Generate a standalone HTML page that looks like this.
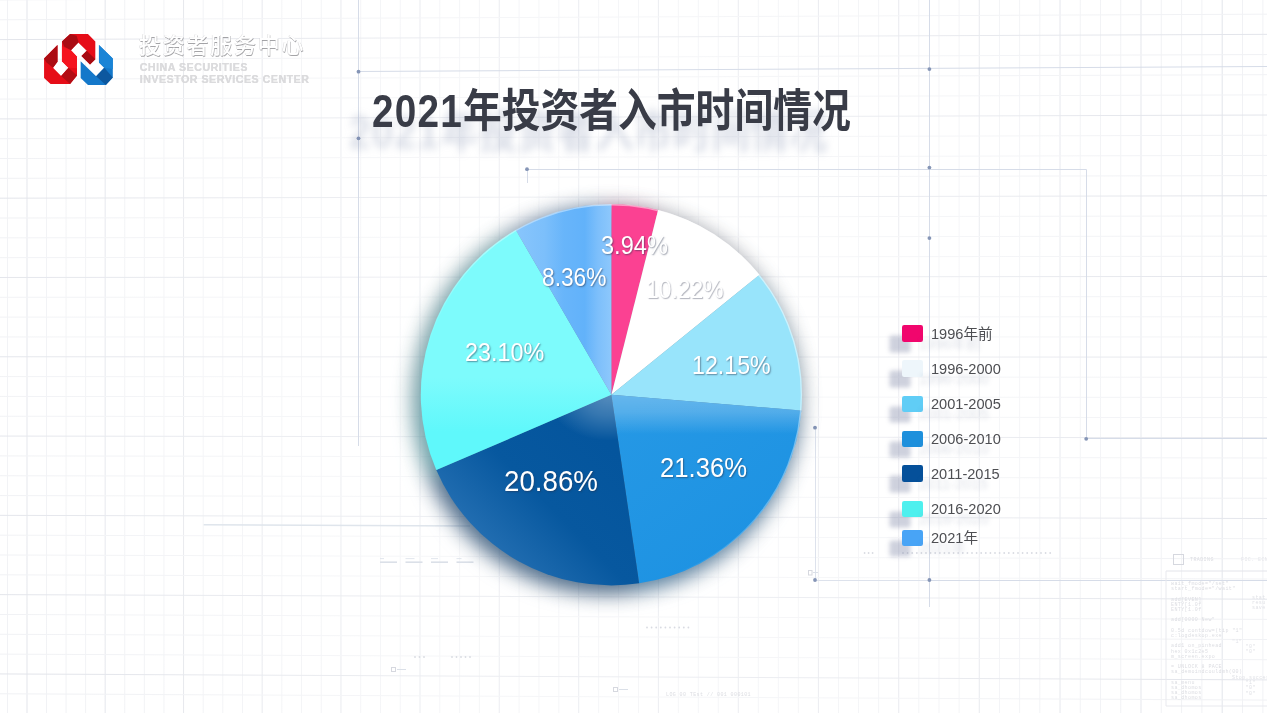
<!DOCTYPE html>
<html lang="zh-CN">
<head>
<meta charset="utf-8">
<title>2021年投资者入市时间情况</title>
<style>
html,body{margin:0;padding:0;background:#fff;}
body{width:1267px;height:713px;overflow:hidden;}
#stage{position:relative;width:1267px;height:713px;overflow:hidden;background:#fff;
  font-family:"Liberation Sans","Noto Sans CJK SC",sans-serif;}
#bg,#pie{position:absolute;left:0;top:0;}
.abs{position:absolute;white-space:nowrap;line-height:1;}
#title{left:372px;top:89px;font-size:45.5px;font-weight:700;color:#393c47;
  transform-origin:0 0;transform:scaleX(0.852);letter-spacing:0;
  filter:drop-shadow(-27px 21px 4.5px rgba(115,128,165,.28));}
#title span{letter-spacing:1.4px;}
.lbl{color:#fff;font-weight:400;transform-origin:0 0;
  text-shadow:1px 1.2px 1.6px rgba(40,50,75,.5);}
.lg{font-size:14.6px;color:#4d4e52;text-shadow:-12px 10px 4px rgba(120,130,160,.25);}
.sw{position:absolute;width:21px;height:16.6px;border-radius:2.2px;left:902.4px;
  box-shadow:-12.5px 10.5px 4px rgba(125,135,165,.38);}
#cn{left:139px;top:34.5px;font-size:22px;letter-spacing:1.75px;color:#fff;font-weight:500;
  text-shadow:0.6px 0.6px 0.6px rgba(125,125,130,.7),-0.4px -0.4px 0.5px rgba(175,175,180,.5);}
.en{left:139.5px;font-size:10.6px;color:#dbdbdd;font-weight:700;letter-spacing:0.54px;
  text-shadow:0.4px 0.4px 0.5px rgba(160,160,165,.4);}
.tiny{color:#dcdde2;font-size:5px;letter-spacing:.4px;font-family:"Liberation Mono",monospace;}
</style>
</head>
<body>
<div id="stage">
<svg id="bg" width="1267" height="713" viewBox="0 0 1267 713">
<g stroke-width="1" shape-rendering="auto" fill="none">
<line x1="7.49" y1="0" x2="7.49" y2="713" stroke="#f1f2f5"/>
<line x1="27" y1="0" x2="27" y2="713" stroke="#e3e5eb"/>
<line x1="46.52" y1="0" x2="46.52" y2="713" stroke="#f1f2f5"/>
<line x1="66.06" y1="0" x2="66.06" y2="713" stroke="#f1f2f5"/>
<line x1="85.61" y1="0" x2="85.61" y2="713" stroke="#f1f2f5"/>
<line x1="105.17" y1="0" x2="105.17" y2="713" stroke="#e3e5eb"/>
<line x1="124.74" y1="0" x2="124.74" y2="713" stroke="#f1f2f5"/>
<line x1="144.33" y1="0" x2="144.33" y2="713" stroke="#f1f2f5"/>
<line x1="163.94" y1="0" x2="163.94" y2="713" stroke="#f1f2f5"/>
<line x1="183.55" y1="0" x2="183.55" y2="713" stroke="#e3e5eb"/>
<line x1="203.18" y1="0" x2="203.18" y2="713" stroke="#f1f2f5"/>
<line x1="222.83" y1="0" x2="222.83" y2="713" stroke="#f1f2f5"/>
<line x1="242.48" y1="0" x2="242.48" y2="713" stroke="#f1f2f5"/>
<line x1="262.15" y1="0" x2="262.15" y2="713" stroke="#e3e5eb"/>
<line x1="281.84" y1="0" x2="281.84" y2="713" stroke="#f1f2f5"/>
<line x1="301.53" y1="0" x2="301.53" y2="713" stroke="#f1f2f5"/>
<line x1="321.24" y1="0" x2="321.24" y2="713" stroke="#f1f2f5"/>
<line x1="340.97" y1="0" x2="340.97" y2="713" stroke="#e3e5eb"/>
<line x1="360.71" y1="0" x2="360.71" y2="713" stroke="#f1f2f5"/>
<line x1="380.46" y1="0" x2="380.46" y2="713" stroke="#f1f2f5"/>
<line x1="400.22" y1="0" x2="400.22" y2="713" stroke="#f1f2f5"/>
<line x1="420" y1="0" x2="420" y2="713" stroke="#e3e5eb"/>
<line x1="439.79" y1="0" x2="439.79" y2="713" stroke="#f1f2f5"/>
<line x1="459.6" y1="0" x2="459.6" y2="713" stroke="#f1f2f5"/>
<line x1="479.42" y1="0" x2="479.42" y2="713" stroke="#f1f2f5"/>
<line x1="499.25" y1="0" x2="499.25" y2="713" stroke="#e3e5eb"/>
<line x1="519.09" y1="0" x2="519.09" y2="713" stroke="#f1f2f5"/>
<line x1="538.95" y1="0" x2="538.95" y2="713" stroke="#f1f2f5"/>
<line x1="558.83" y1="0" x2="558.83" y2="713" stroke="#f1f2f5"/>
<line x1="578.71" y1="0" x2="578.71" y2="713" stroke="#e3e5eb"/>
<line x1="598.61" y1="0" x2="598.61" y2="713" stroke="#f1f2f5"/>
<line x1="618.53" y1="0" x2="618.53" y2="713" stroke="#f1f2f5"/>
<line x1="638.45" y1="0" x2="638.45" y2="713" stroke="#f1f2f5"/>
<line x1="658.39" y1="0" x2="658.39" y2="713" stroke="#e3e5eb"/>
<line x1="678.35" y1="0" x2="678.35" y2="713" stroke="#f1f2f5"/>
<line x1="698.31" y1="0" x2="698.31" y2="713" stroke="#f1f2f5"/>
<line x1="718.29" y1="0" x2="718.29" y2="713" stroke="#f1f2f5"/>
<line x1="738.29" y1="0" x2="738.29" y2="713" stroke="#e3e5eb"/>
<line x1="758.3" y1="0" x2="758.3" y2="713" stroke="#f1f2f5"/>
<line x1="778.32" y1="0" x2="778.32" y2="713" stroke="#f1f2f5"/>
<line x1="798.35" y1="0" x2="798.35" y2="713" stroke="#f1f2f5"/>
<line x1="818.4" y1="0" x2="818.4" y2="713" stroke="#e3e5eb"/>
<line x1="838.46" y1="0" x2="838.46" y2="713" stroke="#f1f2f5"/>
<line x1="858.54" y1="0" x2="858.54" y2="713" stroke="#f1f2f5"/>
<line x1="878.63" y1="0" x2="878.63" y2="713" stroke="#f1f2f5"/>
<line x1="898.73" y1="0" x2="898.73" y2="713" stroke="#e3e5eb"/>
<line x1="918.84" y1="0" x2="918.84" y2="713" stroke="#f1f2f5"/>
<line x1="938.97" y1="0" x2="938.97" y2="713" stroke="#f1f2f5"/>
<line x1="959.12" y1="0" x2="959.12" y2="713" stroke="#f1f2f5"/>
<line x1="979.27" y1="0" x2="979.27" y2="713" stroke="#e3e5eb"/>
<line x1="999.44" y1="0" x2="999.44" y2="713" stroke="#f1f2f5"/>
<line x1="1019.62" y1="0" x2="1019.62" y2="713" stroke="#f1f2f5"/>
<line x1="1039.82" y1="0" x2="1039.82" y2="713" stroke="#f1f2f5"/>
<line x1="1060.03" y1="0" x2="1060.03" y2="713" stroke="#e3e5eb"/>
<line x1="1080.26" y1="0" x2="1080.26" y2="713" stroke="#f1f2f5"/>
<line x1="1100.49" y1="0" x2="1100.49" y2="713" stroke="#f1f2f5"/>
<line x1="1120.74" y1="0" x2="1120.74" y2="713" stroke="#f1f2f5"/>
<line x1="1141.01" y1="0" x2="1141.01" y2="713" stroke="#e3e5eb"/>
<line x1="1161.29" y1="0" x2="1161.29" y2="713" stroke="#f1f2f5"/>
<line x1="1181.58" y1="0" x2="1181.58" y2="713" stroke="#f1f2f5"/>
<line x1="1201.88" y1="0" x2="1201.88" y2="713" stroke="#f1f2f5"/>
<line x1="1222.2" y1="0" x2="1222.2" y2="713" stroke="#e3e5eb"/>
<line x1="1242.53" y1="0" x2="1242.53" y2="713" stroke="#f1f2f5"/>
<line x1="1262.88" y1="0" x2="1262.88" y2="713" stroke="#f1f2f5"/>
<line x1="0" y1="-19.85" x2="1267" y2="-26.18" stroke="#f1f2f5"/>
<line x1="0" y1="-0.03" x2="1267" y2="-6.01" stroke="#f1f2f5"/>
<line x1="0" y1="19.79" x2="1267" y2="14.16" stroke="#f1f2f5"/>
<line x1="0" y1="39.62" x2="1267" y2="34.34" stroke="#e3e5eb"/>
<line x1="0" y1="59.44" x2="1267" y2="54.51" stroke="#f1f2f5"/>
<line x1="0" y1="79.26" x2="1267" y2="74.69" stroke="#f1f2f5"/>
<line x1="0" y1="99.08" x2="1267" y2="94.86" stroke="#f1f2f5"/>
<line x1="0" y1="118.91" x2="1267" y2="115.03" stroke="#e3e5eb"/>
<line x1="0" y1="138.73" x2="1267" y2="135.21" stroke="#f1f2f5"/>
<line x1="0" y1="158.55" x2="1267" y2="155.38" stroke="#f1f2f5"/>
<line x1="0" y1="178.37" x2="1267" y2="175.56" stroke="#f1f2f5"/>
<line x1="0" y1="198.19" x2="1267" y2="195.73" stroke="#e3e5eb"/>
<line x1="0" y1="218.02" x2="1267" y2="215.91" stroke="#f1f2f5"/>
<line x1="0" y1="237.84" x2="1267" y2="236.08" stroke="#f1f2f5"/>
<line x1="0" y1="257.66" x2="1267" y2="256.25" stroke="#f1f2f5"/>
<line x1="0" y1="277.48" x2="1267" y2="276.43" stroke="#e3e5eb"/>
<line x1="0" y1="297.31" x2="1267" y2="296.6" stroke="#f1f2f5"/>
<line x1="0" y1="317.13" x2="1267" y2="316.78" stroke="#f1f2f5"/>
<line x1="0" y1="336.95" x2="1267" y2="336.95" stroke="#f1f2f5"/>
<line x1="0" y1="356.77" x2="1267" y2="357.12" stroke="#e3e5eb"/>
<line x1="0" y1="376.59" x2="1267" y2="377.3" stroke="#f1f2f5"/>
<line x1="0" y1="396.42" x2="1267" y2="397.47" stroke="#f1f2f5"/>
<line x1="0" y1="416.24" x2="1267" y2="417.65" stroke="#f1f2f5"/>
<line x1="0" y1="436.06" x2="1267" y2="437.82" stroke="#e3e5eb"/>
<line x1="0" y1="455.88" x2="1267" y2="457.99" stroke="#f1f2f5"/>
<line x1="0" y1="475.71" x2="1267" y2="478.17" stroke="#f1f2f5"/>
<line x1="0" y1="495.53" x2="1267" y2="498.34" stroke="#f1f2f5"/>
<line x1="0" y1="515.35" x2="1267" y2="518.52" stroke="#e3e5eb"/>
<line x1="0" y1="535.17" x2="1267" y2="538.69" stroke="#f1f2f5"/>
<line x1="0" y1="554.99" x2="1267" y2="558.87" stroke="#f1f2f5"/>
<line x1="0" y1="574.82" x2="1267" y2="579.04" stroke="#f1f2f5"/>
<line x1="0" y1="594.64" x2="1267" y2="599.21" stroke="#e3e5eb"/>
<line x1="0" y1="614.46" x2="1267" y2="619.39" stroke="#f1f2f5"/>
<line x1="0" y1="634.28" x2="1267" y2="639.56" stroke="#f1f2f5"/>
<line x1="0" y1="654.11" x2="1267" y2="659.74" stroke="#f1f2f5"/>
<line x1="0" y1="673.93" x2="1267" y2="679.91" stroke="#e3e5eb"/>
<line x1="0" y1="693.75" x2="1267" y2="700.08" stroke="#f1f2f5"/>
<line x1="0" y1="713.57" x2="1267" y2="720.26" stroke="#f1f2f5"/>
</g>
<defs><radialGradient id="fade" gradientUnits="userSpaceOnUse" cx="620" cy="380" r="680">
<stop offset="0" stop-color="#fff" stop-opacity=".5"/><stop offset=".55" stop-color="#fff" stop-opacity=".3"/><stop offset="1" stop-color="#fff" stop-opacity="0"/>
</radialGradient></defs>
<rect x="0" y="0" width="1267" height="713" fill="url(#fade)"/>
<!-- decorative guide lines -->
<g stroke="#d6dce8" stroke-width="1" fill="none">
<path d="M358.5 0V446"/>
<path d="M358.5 71.5L1267 66.5"/>
<path d="M929.5 0V607"/>
<path d="M527.5 183V169.5H1086.5V438.5H1267"/>
<path d="M815.5 427.7V580.5H1267" stroke="#dde2ec"/>
<path d="M929.5 580.5H1267"/>
<path d="M203.7 524.8L470 526" stroke="#dfe5ec" stroke-width="1.5"/>
</g>
<g fill="#8595b6">
<circle cx="358.5" cy="71.7" r="1.9"/><circle cx="358.5" cy="138.3" r="1.9"/>
<circle cx="527" cy="169.2" r="1.9"/>
<circle cx="929.4" cy="69.1" r="1.9"/><circle cx="929.4" cy="167.6" r="1.9"/><circle cx="929.4" cy="238.1" r="1.9"/>
<circle cx="1086.2" cy="438.8" r="1.9"/>
<circle cx="815" cy="427.7" r="1.9"/><circle cx="815" cy="580" r="1.9"/><circle cx="929.4" cy="580" r="1.9"/>
</g>
<!-- faint HUD marks -->
<g fill="#d9dbe2">
<circle cx="864.6" cy="553" r="0.9"/>
<circle cx="868.6" cy="553" r="0.9"/>
<circle cx="872.6" cy="553" r="0.9"/>
<circle cx="903" cy="553" r="0.9"/>
<circle cx="907.6" cy="553" r="0.9"/>
<circle cx="912.2" cy="553" r="0.9"/>
<circle cx="916.8" cy="553" r="0.9"/>
<circle cx="921.4" cy="553" r="0.9"/>
<circle cx="926" cy="553" r="0.9"/>
<circle cx="930.6" cy="553" r="0.9"/>
<circle cx="935.2" cy="553" r="0.9"/>
<circle cx="939.8" cy="553" r="0.9"/>
<circle cx="944.4" cy="553" r="0.9"/>
<circle cx="949" cy="553" r="0.9"/>
<circle cx="953.6" cy="553" r="0.9"/>
<circle cx="958.2" cy="553" r="0.9"/>
<circle cx="962.8" cy="553" r="0.9"/>
<circle cx="967.4" cy="553" r="0.9"/>
<circle cx="972" cy="553" r="0.9"/>
<circle cx="976.6" cy="553" r="0.9"/>
<circle cx="981.2" cy="553" r="0.9"/>
<circle cx="985.8" cy="553" r="0.9"/>
<circle cx="990.4" cy="553" r="0.9"/>
<circle cx="995" cy="553" r="0.9"/>
<circle cx="999.6" cy="553" r="0.9"/>
<circle cx="1004.2" cy="553" r="0.9"/>
<circle cx="1008.8" cy="553" r="0.9"/>
<circle cx="1013.4" cy="553" r="0.9"/>
<circle cx="1018" cy="553" r="0.9"/>
<circle cx="1022.6" cy="553" r="0.9"/>
<circle cx="1027.2" cy="553" r="0.9"/>
<circle cx="1031.8" cy="553" r="0.9"/>
<circle cx="1036.4" cy="553" r="0.9"/>
<circle cx="1041" cy="553" r="0.9"/>
<circle cx="1045.6" cy="553" r="0.9"/>
<circle cx="1050.2" cy="553" r="0.9"/>
<circle cx="647" cy="627.5" r="0.9"/>
<circle cx="651.6" cy="627.5" r="0.9"/>
<circle cx="656.2" cy="627.5" r="0.9"/>
<circle cx="660.8" cy="627.5" r="0.9"/>
<circle cx="665.4" cy="627.5" r="0.9"/>
<circle cx="670" cy="627.5" r="0.9"/>
<circle cx="674.6" cy="627.5" r="0.9"/>
<circle cx="679.2" cy="627.5" r="0.9"/>
<circle cx="683.8" cy="627.5" r="0.9"/>
<circle cx="688.4" cy="627.5" r="0.9"/>
<circle cx="415" cy="657" r="0.9"/>
<circle cx="419.5" cy="657" r="0.9"/>
<circle cx="424" cy="657" r="0.9"/>
<circle cx="452" cy="657" r="0.9"/>
<circle cx="456.5" cy="657" r="0.9"/>
<circle cx="461" cy="657" r="0.9"/>
<circle cx="465.5" cy="657" r="0.9"/>
<circle cx="470" cy="657" r="0.9"/>
</g>
<g fill="#dbe0e8">
<rect x="380" y="561.4" width="17" height="1.6"/><rect x="405.5" y="561.4" width="17" height="1.6"/><rect x="431" y="561.4" width="17" height="1.6"/><rect x="456.5" y="561.4" width="17" height="1.6"/>
<rect x="380" y="558.3" width="4" height=".8"/><rect x="405.5" y="558.3" width="9" height=".8"/><rect x="431" y="558.3" width="7" height=".8"/><rect x="456.5" y="558.3" width="5" height=".8"/>
<rect x="397" y="669" width="9" height="1"/><rect x="619" y="689" width="9" height="1"/><rect x="813" y="572" width="5" height="1"/>
</g>
<g fill="none" stroke="#d6d8df" stroke-width="1">
<rect x="1173.5" y="554.5" width="10" height="10"/>
<rect x="808.5" y="570.5" width="3.5" height="4.5"/>
<rect x="391.5" y="667.5" width="4" height="4"/>
<rect x="613.5" y="687.5" width="4" height="4"/>
<path d="M1166 571H1267" stroke="#e3e4ea"/><path d="M1166 571V706H1267" stroke="#e8e9ee"/>
</g>
</svg>

<svg id="pie" width="1267" height="713" viewBox="0 0 1267 713">
<defs>
<filter id="sh" x="-20%" y="-20%" width="140%" height="140%"><feGaussianBlur stdDeviation="10"/></filter>
<filter id="sh2" x="-20%" y="-20%" width="140%" height="140%" color-interpolation-filters="sRGB"><feGaussianBlur stdDeviation="11"/><feColorMatrix type="matrix" values=".55 0 0 0 .06  0 .55 0 0 .08  0 0 .55 0 .1  0 0 0 .68 0"/></filter>
<clipPath id="cp"><circle cx="611.4" cy="394.8" r="190.6"/></clipPath>
<linearGradient id="gMid" gradientUnits="userSpaceOnUse" x1="516" y1="0" x2="611.4" y2="0">
<stop offset="0" stop-color="#88c5fc"/><stop offset=".3" stop-color="#7cbffb"/><stop offset=".5" stop-color="#68b5fa"/><stop offset=".72" stop-color="#62b2fa"/><stop offset=".86" stop-color="#7dbffb"/><stop offset="1" stop-color="#8dc8fc"/>
</linearGradient>
<linearGradient id="gCyan" gradientUnits="userSpaceOnUse" x1="0" y1="378" x2="0" y2="432">
<stop offset="0" stop-color="#7dfbfc"/><stop offset="1" stop-color="#5ff8fb"/>
</linearGradient>
<linearGradient id="gDark" gradientUnits="userSpaceOnUse" x1="605" y1="440" x2="470" y2="575">
<stop offset="0" stop-color="#04559d"/><stop offset=".45" stop-color="#07589f"/><stop offset="1" stop-color="#2f78ba"/>
</linearGradient>
<linearGradient id="gBlue" gradientUnits="userSpaceOnUse" x1="640" y1="400" x2="760" y2="560">
<stop offset="0" stop-color="#2598e5"/><stop offset="1" stop-color="#1d92e2"/>
</linearGradient>
<linearGradient id="gBand" gradientUnits="userSpaceOnUse" x1="0" y1="394" x2="0" y2="434">
<stop offset="0" stop-color="#fff" stop-opacity=".30"/><stop offset=".45" stop-color="#fff" stop-opacity=".22"/><stop offset="1" stop-color="#fff" stop-opacity="0"/>
</linearGradient>
<radialGradient id="gRim" gradientUnits="userSpaceOnUse" cx="611.4" cy="394.8" r="190.6">
<stop offset="0" stop-color="#003a70" stop-opacity="0"/><stop offset=".93" stop-color="#003a70" stop-opacity="0"/><stop offset="1" stop-color="#003a70" stop-opacity=".16"/>
</radialGradient>
<radialGradient id="gBand2" gradientUnits="userSpaceOnUse" cx="609" cy="396" r="62" gradientTransform="translate(609 396) scale(1 .72) translate(-609 -396)">
<stop offset="0" stop-color="#fff" stop-opacity=".32"/><stop offset=".45" stop-color="#fff" stop-opacity=".2"/><stop offset="1" stop-color="#fff" stop-opacity="0"/>
</radialGradient>
<linearGradient id="gRing" gradientUnits="userSpaceOnUse" x1="760" y1="230" x2="480" y2="540">
<stop offset="0" stop-color="#fff" stop-opacity=".55"/><stop offset=".5" stop-color="#fff" stop-opacity=".3"/><stop offset=".75" stop-color="#fff" stop-opacity="0"/>
</linearGradient>
</defs>
<circle cx="608.4" cy="398.8" r="193.6" fill="#3c4254" opacity=".42" filter="url(#sh)"/>
<g filter="url(#sh2)" transform="translate(-6 6)">
<path d="M611.4 394.8L611.4 204.2A190.6 190.6 0 0 1 658.11 210.01Z" fill="#fb4192"/>
<path d="M611.4 394.8L658.11 210.01A190.6 190.6 0 0 1 759.48 274.8Z" fill="#ffffff"/>
<path d="M611.4 394.8L759.48 274.8A190.6 190.6 0 0 1 801.35 410.5Z" fill="#98e4fb"/>
<path d="M611.4 394.8L801.35 410.5A190.6 190.6 0 0 1 639.15 583.37Z" fill="url(#gBlue)"/>
<path d="M611.4 394.8L639.15 583.37A190.6 190.6 0 0 1 436.3 470.09Z" fill="url(#gDark)"/>
<path d="M611.4 394.8L436.3 470.09A190.6 190.6 0 0 1 515.81 229.9Z" fill="url(#gCyan)"/>
<path d="M611.4 394.8L515.81 229.9A190.6 190.6 0 0 1 611.4 204.2Z" fill="url(#gMid)"/>
</g>
<g>
<path d="M611.4 394.8L611.4 204.2A190.6 190.6 0 0 1 658.11 210.01Z" fill="#fb4192"/>
<path d="M611.4 394.8L658.11 210.01A190.6 190.6 0 0 1 759.48 274.8Z" fill="#ffffff"/>
<path d="M611.4 394.8L759.48 274.8A190.6 190.6 0 0 1 801.35 410.5Z" fill="#98e4fb"/>
<path d="M611.4 394.8L801.35 410.5A190.6 190.6 0 0 1 639.15 583.37Z" fill="url(#gBlue)"/>
<path d="M611.4 394.8L639.15 583.37A190.6 190.6 0 0 1 436.3 470.09Z" fill="url(#gDark)"/>
<path d="M611.4 394.8L436.3 470.09A190.6 190.6 0 0 1 515.81 229.9Z" fill="url(#gCyan)"/>
<path d="M611.4 394.8L515.81 229.9A190.6 190.6 0 0 1 611.4 204.2Z" fill="url(#gMid)"/>
</g>
<g clip-path="url(#cp)">
<path d="M611.4 394.8L803.35 410.67A192.6 192.6 0 0 1 639.44 585.35Z" fill="url(#gBand)"/>
<path d="M611.4 394.8L639.44 585.35A192.6 192.6 0 0 1 434.46 470.88Z" fill="url(#gBand2)"/>
</g>
<circle cx="611.4" cy="394.8" r="190" fill="none" stroke="url(#gRing)" stroke-width="1.4"/>
</svg>

<!-- logo -->
<svg class="abs" style="left:40px;top:30px" width="78" height="58" viewBox="0 0 959 713">
<polygon fill="#e60d18" points="370,48 590,48 680,140 680,360 615,425 510,320 575,255 470,155 380,250 455,330 455,560 370,665 130,665 50,590 50,350 215,185 215,390 160,465 260,565 350,465 270,385 270,140"/>
<polygon fill="#a90c13" points="270,140 370,48 450,70 475,150 380,250 300,205"/>
<polygon fill="#a50b12" points="510,320 575,255 680,360 615,425"/>
<polygon fill="#ab0c13" points="215,185 50,350 80,400 160,465 215,390"/>
<polygon fill="#b30d14" points="260,565 350,465 455,560 370,665"/>
<polygon fill="#f5141f" points="270,200 380,250 455,330 455,470 350,465 270,385"/>
<polygon fill="#1478ca" points="725,185 895,350 895,585 810,675 590,675 500,590 500,385 690,570 790,465 725,400"/>
<polygon fill="#0d589f" points="690,570 790,465 895,585 810,675"/>
<polygon fill="#1a84d6" points="725,185 895,350 895,480 790,465 725,400"/>
</svg>
<div id="cn" class="abs">投资者服务中心</div>
<div class="abs en" style="top:61.8px">CHINA SECURITIES</div>
<div class="abs en" style="top:74.1px">INVESTOR SERVICES CENTER</div>

<div id="title" class="abs"><span>2021</span>年投资者入市时间情况</div>

<div class="abs lbl" style="left:601.2px;top:233.3px;font-size:25.5px;transform:scaleX(0.925);">3.94%</div>
<div class="abs lbl" style="left:542.4px;top:265.3px;font-size:25.5px;transform:scaleX(0.892);">8.36%</div>
<div class="abs lbl" style="left:645.5px;top:277.2px;font-size:25px;transform:scaleX(0.914);text-shadow:1px 1px 1.2px rgba(70,75,95,.42)">10.22%</div>
<div class="abs lbl" style="left:465.1px;top:339.9px;font-size:25.5px;transform:scaleX(0.917);">23.10%</div>
<div class="abs lbl" style="left:691.7px;top:352.5px;font-size:25.5px;transform:scaleX(0.91);">12.15%</div>
<div class="abs lbl" style="left:503.5px;top:465.8px;font-size:29.8px;transform:scaleX(0.93);">20.86%</div>
<div class="abs lbl" style="left:660.1px;top:454.1px;font-size:27.5px;transform:scaleX(0.934);">21.36%</div>

<div class="sw" style="top:325.1px;background:#f1066d"></div>
<div class="abs lg" style="left:931px;top:326.5px">1996年前</div>
<div class="sw" style="top:360.2px;background:#eef6fb"></div>
<div class="abs lg" style="left:931px;top:361.6px">1996-2000</div>
<div class="sw" style="top:395.6px;background:#60cdf6"></div>
<div class="abs lg" style="left:931px;top:397px">2001-2005</div>
<div class="sw" style="top:430.5px;background:#1e90dc"></div>
<div class="abs lg" style="left:931px;top:431.9px">2006-2010</div>
<div class="sw" style="top:465.2px;background:#05509a"></div>
<div class="abs lg" style="left:931px;top:466.6px">2011-2015</div>
<div class="sw" style="top:500.5px;background:#4ef0ee"></div>
<div class="abs lg" style="left:931px;top:501.9px">2016-2020</div>
<div class="sw" style="top:529.8px;background:#48a4f6"></div>
<div class="abs lg" style="left:931px;top:531.2px">2021年</div>

<div class="abs tiny" style="left:1190px;top:557.5px">TRADING</div>
<div class="abs tiny" style="left:1241px;top:557.5px;color:#e6e7eb">FIC. ECN</div>
<div class="abs tiny" style="left:1252px;top:596px;line-height:5.2px;white-space:pre;color:#e0e1e6">stat
resu
save</div>
<div class="abs tiny" style="left:1232px;top:640px;line-height:5.2px;white-space:pre;color:#e2e3e8">"1"
    "0"
    "0"</div>
<div class="abs tiny" style="left:1232px;top:676px;line-height:5.2px;white-space:pre;color:#e0e1e6">Stop.success
    "1"
    "0"
    "0"</div>
<div class="abs tiny" style="left:666px;top:693px">LOG 00 TEst // 001 000101</div>
<div class="abs tiny" style="left:1171px;top:582px;line-height:5.2px;white-space:pre">wait_fmode="/set"
start_fmode="/wait"

add[EVEN]
ENTY[1.0f
ENTY[1.0f

add[0000 New"

0.5d contdow=(tip "1"
c:logdeskop.exe

add1 on_pinhead
hex 0x1c2e5
m_screen.expo

= UNLOCK 8 PACE
sa_demoindcouldmh(00)

sa_menu
sa_dhomos
sa_dhomos
sa_dhomos</div>

</div>
</body>
</html>
